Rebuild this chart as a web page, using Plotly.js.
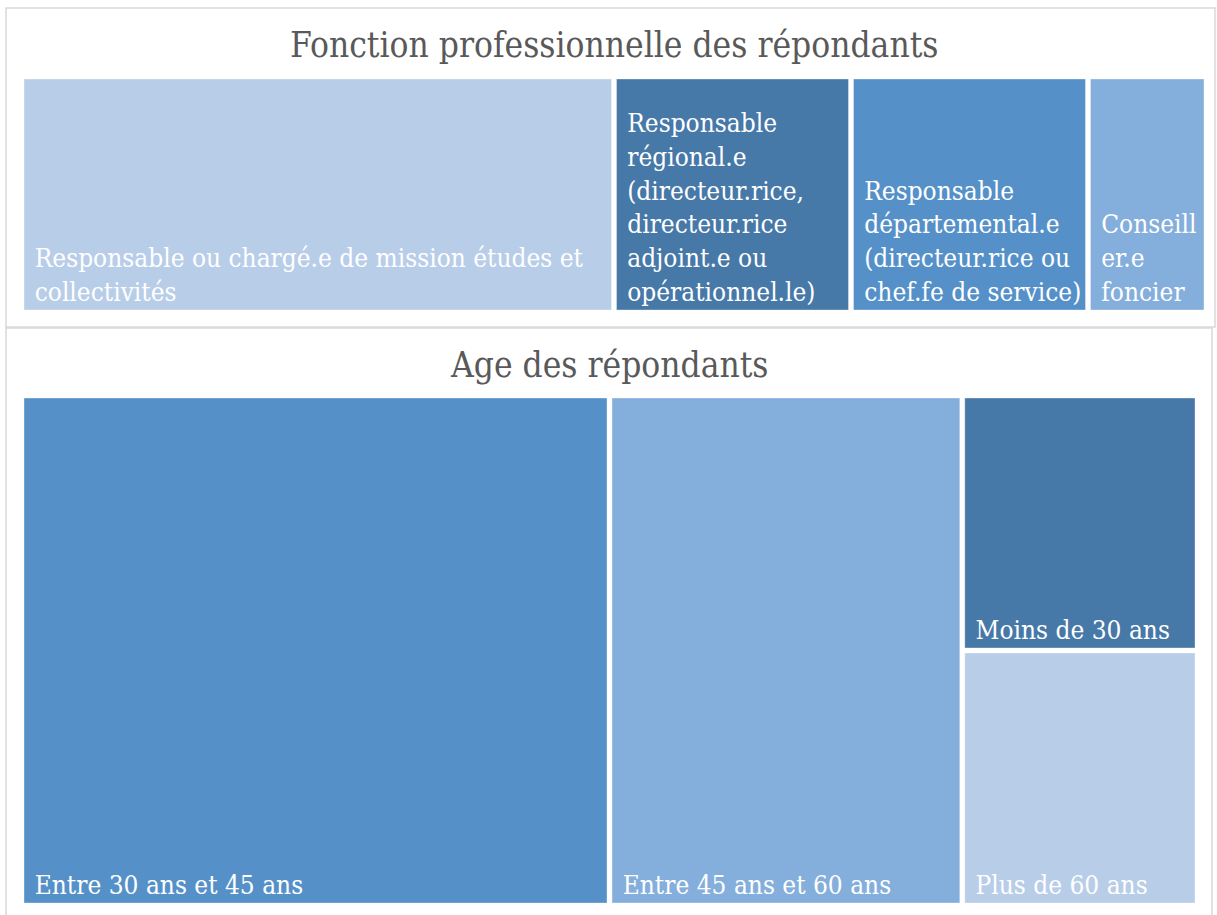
<!DOCTYPE html>
<html>
<head>
<meta charset="utf-8">
<script src="https://cdn.plot.ly/plotly-3.0.1.min.js"></script>
<style>html,body{margin:0;padding:0;background:#fff;}#chart{width:1217px;height:915px;}</style>
</head>
<body>
<div id="chart"></div>
<script>
// Data
const fonctionLines = [
  ["Responsable ou chargé.e de mission études et", "collectivités"],
  ["Responsable", "régional.e", "(directeur.rice,", "directeur.rice", "adjoint.e ou", "opérationnel.le)"],
  ["Responsable", "départemental.e", "(directeur.rice ou", "chef.fe de service)"],
  ["Conseill", "er.e", "foncier"]
];
const fonctionValues = [50, 20, 20, 10];
const fonctionColors = ["#B8CDE8", "#4678A8", "#5591C8", "#84AEDB"];

const ageIds = ["a1", "a2", "grp", "a3", "a4"];
const ageLabels = ["Entre 30 ans et 45 ans", "Entre 45 ans et 60 ans", "", "Moins de 30 ans", "Plus de 60 ans"];
const ageParents = ["", "", "", "grp", "grp"];
const ageValues = [50, 30, 20, 10, 10];
const ageColors = ["#5591C8", "#84AEDB", "#FFFFFF", "#4678A8", "#B8CDE8"];

const FONT = "'DejaVu Serif Condensed', 'Liberation Serif', serif";
const W = 1217, H = 915;
const px = v => v / W, py = v => 1 - v / H;
const IND = "\u2004";
const indent = lines => lines.map(l => l ? IND + l : l).join("<br>");

const common = {
  type: "treemap",
  sort: false,
  branchvalues: "total",
  textposition: "bottom left",
  textinfo: "text",
  textfont: {family: FONT, size: 26, color: "#FFFFFF"},
  tiling: {packing: "slice-dice", pad: 5},
  pathbar: {visible: false},
  hoverinfo: "label+value"
};

const fonctionLabels = fonctionLines.map(l => l.join(" "));
const traceFonction = Object.assign({}, common, {
  labels: fonctionLabels,
  text: fonctionLines.map(indent),
  parents: fonctionLabels.map(() => ""),
  values: fonctionValues,
  marker: {colors: fonctionColors, line: {width: 1, color: "rgba(255,255,255,0.35)"}, pad: {t: 0, l: 0, r: 0, b: 0}},
  domain: {x: [px(24), px(1204)], y: [py(310), py(79)]}
});

const traceAge = Object.assign({}, common, {
  ids: ageIds,
  labels: ageLabels,
  text: ageLabels.map(l => indent([l])),
  parents: ageParents,
  values: ageValues,
  marker: {colors: ageColors, line: {width: 1, color: "rgba(255,255,255,0.35)"}, pad: {t: 0, l: 0, r: 0, b: 0}},
  domain: {x: [px(24), px(1195)], y: [py(903), py(398)]}
});

const layout = {
  width: W, height: H,
  margin: {l: 0, r: 0, t: 0, b: 0},
  paper_bgcolor: "#FFFFFF",
  showlegend: false,
  uniformtext: {mode: "show", minsize: 26},
  font: {family: FONT},
  annotations: [
    {text: "Fonction professionnelle des répondants", xref: "paper", yref: "paper", x: px(614), y: py(45), xanchor: "center", yanchor: "middle", showarrow: false, font: {family: FONT, size: 35, color: "#595959"}},
    {text: "Age des répondants", xref: "paper", yref: "paper", x: px(609), y: py(365), xanchor: "center", yanchor: "middle", showarrow: false, font: {family: FONT, size: 35, color: "#595959"}}
  ],
  shapes: [
    {type: "rect", xref: "paper", yref: "paper", x0: px(6), x1: px(1215), y0: py(327), y1: py(8), line: {color: "#D9D9D9", width: 1.5}, fillcolor: "rgba(0,0,0,0)", layer: "below"},
    {type: "rect", xref: "paper", yref: "paper", x0: px(6), x1: px(1212), y0: py(930), y1: py(328), line: {color: "#D9D9D9", width: 1.5}, fillcolor: "rgba(0,0,0,0)", layer: "below"}
  ]
};

Plotly.newPlot("chart", [traceFonction, traceAge], layout, {displayModeBar: false, staticPlot: true});
</script>
</body>
</html>
